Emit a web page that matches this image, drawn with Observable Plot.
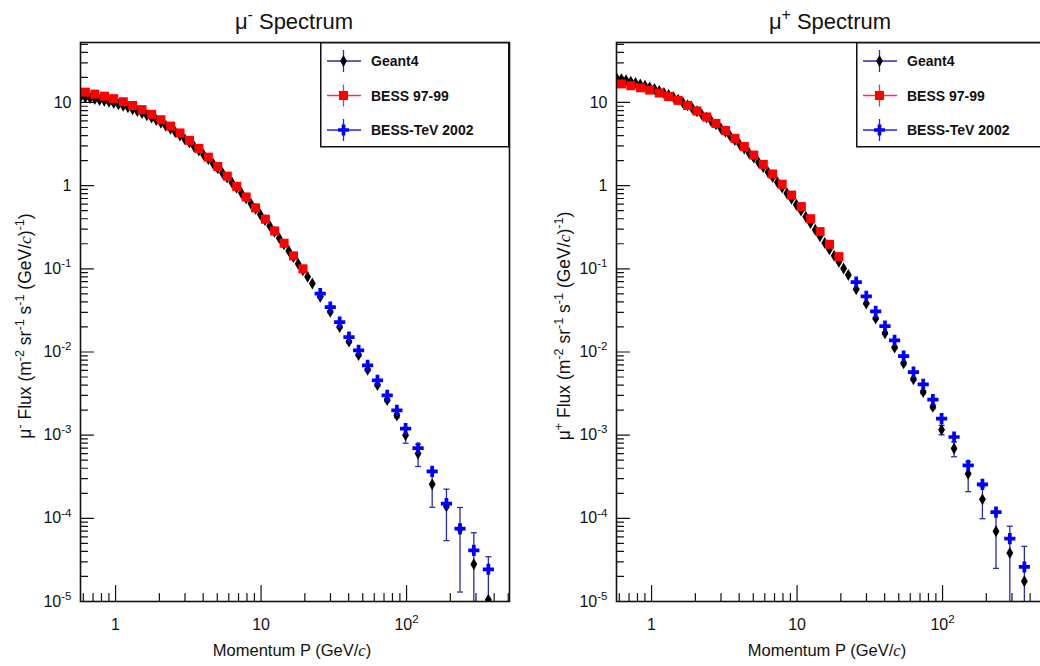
<!DOCTYPE html>
<html><head><meta charset="utf-8">
<script src="https://cdn.jsdelivr.net/npm/d3@7"></script>
<script src="https://cdn.jsdelivr.net/npm/@observablehq/plot@0.6"></script>
<style>
body{margin:0;background:#fff;}
#fig{position:relative;width:1040px;height:666px;overflow:hidden;background:#fff;font-family:"Liberation Sans",Arial,sans-serif;}
.panel{position:absolute;top:0;width:520px;height:666px;overflow:hidden;}
.panel > svg{max-width:none !important;height:666px !important;}
.legend{position:absolute;top:42px;width:190px;height:106px;}
</style></head>
<body><div id="fig"><div class="panel" id="left" style="left:0"></div><div class="panel" id="right" style="left:520px"></div></div>
<script>
// ---------- data ----------
// BESS 97-99 momentum bins (GeV/c)
const pBess = [0.62,0.72,0.84,0.97,1.13,1.31,1.52,1.77,2.05,2.39,2.77,3.22,3.74,4.34,5.04,5.86,6.80,7.90,9.17,10.7,12.4,14.4,16.7,19.4];
const bessMinus = [13.3,12.6,11.9,11.1,10.2,9.2,8.2,7.2,6.2,5.2,4.3,3.5,2.8,2.2,1.70,1.30,0.98,0.73,0.54,0.395,0.285,0.203,0.143,0.100];
const bessPlus  = [16.7,15.9,15.0,14.1,13.0,11.8,10.6,9.2,7.9,6.7,5.6,4.6,3.7,2.95,2.33,1.80,1.38,1.04,0.77,0.56,0.40,0.28,0.197,0.140];
// Geant4 fine bins at low momentum
const pG4 = [0.575,0.620,0.668,0.720,0.776,0.836,0.901,0.971,1.047,1.128,1.216,1.310,1.412,1.522,1.640,1.768,1.905,2.053,2.213,2.385,2.570,2.770,2.985,3.217,3.467,3.736,4.027,4.339,4.677,5.040,5.432,5.854,6.309,6.799,7.327,7.897,8.510,9.171,9.884,10.65,11.48,12.37,13.33,14.37,15.49,16.69,17.99,19.38,20.89,22.51];
const g4MinusLow = [11.7,11.5,11.3,11.0,10.7,10.5,10.2,9.84,9.48,9.14,8.73,8.30,7.87,7.46,7.01,6.59,6.15,5.71,5.25,4.83,4.41,4.01,3.63,3.29,2.95,2.64,2.35,2.09,1.84,1.62,1.42,1.25,1.09,0.944,0.817,0.706,0.608,0.525,0.450,0.386,0.328,0.279,0.234,0.197,0.165,0.138,0.115,0.0962,0.0802,0.0667];
const g4PlusLow  = [19.6,19.1,18.5,17.8,17.2,16.5,15.9,15.2,14.5,13.8,13.0,12.3,11.6,10.8,10.0,9.27,8.53,7.83,7.18,6.58,5.98,5.45,4.92,4.44,3.96,3.53,3.14,2.79,2.47,2.18,1.91,1.67,1.46,1.27,1.10,0.948,0.811,0.695,0.590,0.501,0.422,0.355,0.295,0.246,0.205,0.171,0.144,0.121,0.101,0.0843];
// BESS-TeV 2002 momentum bins (GeV/c)
const pTev = [25.5,29.9,34.7,40.2,46.8,54.0,63.1,73.6,85.8,98.5,120,150,188,233,290,365];
const tevMinus = [0.0502,0.0347,0.0229,0.0151,0.01045,0.0069,0.00456,0.00301,0.00199,0.0012,7.0e-4,3.67e-4,1.50e-4,7.5e-5,4.12e-5,2.44e-5];
const tevPlus  = [0.0692,0.0466,0.0308,0.0205,0.01377,0.00891,0.00573,0.00408,0.00267,0.00158,9.5e-4,4.34e-4,2.56e-4,1.19e-4,5.7e-5,2.6e-5];
// Geant4 at BESS-TeV bins, with errors
const g4MinusHigh = [0.046,0.0305,0.0200,0.0133,0.0092,0.0061,0.0040,0.00265,0.00172,1.0e-3,6.0e-4,2.56e-4,1.39e-4,7.4e-5,2.8e-5,1.05e-5];
const g4MinusErr  = [0.001,0.0008,0.0006,0.0004,0.0003,0.0002,0.00015,0.00012,0.0001,2.0e-4,1.8e-4,1.2e-4,0.85e-4,6.1e-5,3.9e-5,2.4e-5];
const g4PlusHigh  = [0.0567,0.0382,0.0253,0.0168,0.0113,0.0073,0.0047,0.0033,0.00219,1.16e-3,6.9e-4,3.44e-4,1.69e-4,7.0e-5,3.83e-5,1.75e-5];
const g4PlusErr   = [0.0012,0.0009,0.0007,0.0005,0.0004,0.0003,0.0002,0.00015,0.00012,1.5e-4,1.4e-4,1.35e-4,0.7e-4,4.5e-5,4.2e-5,2.85e-5];

const seriesNames = ["Geant4","BESS 97-99","BESS-TeV 2002"];
const xMajor = [1,10,100];
const xMinor = [0.6,0.7,0.8,0.9,2,3,4,5,6,7,8,9,20,30,40,50,60,70,80,90,200,300,400,500];
const yMajor = [1e-5,1e-4,1e-3,1e-2,1e-1,1,10];
const yMinor = [];
for (const d of [1e-5,1e-4,1e-3,1e-2,1e-1,1,10]) for (let k=2;k<=9;k++){ const v=d*k; if (v<=52) yMinor.push(v); }

// ---------- styling ----------
const NAVY = "#2b2bb0", RED = "#ff0000", BLUE = "#0000ff";
const FONT = "Liberation Sans, Arial, Helvetica, sans-serif";
const tickShape = {draw(ctx, l){ ctx.moveTo(0,0); ctx.lineTo(0,-l); }};
const capSymbol = {draw(ctx, size){ const w = Math.sqrt(size/Math.PI); ctx.moveTo(-w,0); ctx.lineTo(w,0); }};

const fmtX = d => d === 100 ? "10^2" : String(d);
const fmtY = d => d === 10 ? "10" : d === 1 ? "1" : "10^" + Math.round(Math.log10(d));

function supify(svg){
  d3.select(svg).selectAll("g[aria-label$='tick label'] text").each(function(){
    const t = this.textContent; const m = t.match(/^(.*)\^(.*)$/);
    if (!m) return;
    const s = d3.select(this); s.text(null);
    s.append("tspan").text(m[1]);
    s.append("tspan").attr("dy","-0.6em").attr("font-size","0.72em").text(m[2]);
  });
}

function rich(parent, parts, fs){
  const t = parent.append("text").attr("font-size", fs).attr("fill","#111");
  const up = 0.42*fs; let raised = false;
  for (const [s, kind] of parts){
    const ts = t.append("tspan").text(s);
    if (kind === "sup"){ ts.attr("font-size", 0.72*fs); if(!raised){ ts.attr("dy", -up); raised = true; } }
    else { if (raised){ ts.attr("dy", up); raised = false; } if (kind === "it") ts.attr("font-family","Liberation Serif, Times New Roman, serif").attr("font-style","italic"); }
  }
  return t;
}

function panel(el, o){
  const geant = [...pG4.map((p,i)=>({p, f:o.g4Low[i]})), ...pTev.map((p,i)=>({p, f:o.g4High[i]}))];
  const err = pTev.map((p,i)=>({p, f:o.g4High[i], lo:o.g4High[i]-o.g4Err[i], hi:o.g4High[i]+o.g4Err[i]}));
  const caps = [...err.map(d=>({p:d.p, v:d.hi})), ...err.filter(d=>d.lo>0).map(d=>({p:d.p, v:d.lo}))];
  const bess = pBess.map((p,i)=>({p, f:o.bess[i]}));
  const tev = pTev.map((p,i)=>({p, f:o.tev[i]}));
  const svg = Plot.plot({
    width: o.width, height: 666,
    marginLeft: o.ml, marginRight: o.mr, marginTop: 42, marginBottom: 65,
    x: {type: "log", domain: [0.574, 510]},
    y: {type: "log", domain: [1e-5, 52.6]},
    style: {fontFamily: FONT, color: "#111", background: "transparent", overflow: "visible"},
    marks: [
      Plot.vector(xMajor, {x: d=>d, frameAnchor: "bottom", length: 16, rotate: 0, anchor: "start", shape: tickShape, stroke: "#111", strokeWidth: 1.2}),
      Plot.vector(xMinor, {x: d=>d, frameAnchor: "bottom", length: 8, rotate: 0, anchor: "start", shape: tickShape, stroke: "#111", strokeWidth: 1.2}),
      Plot.vector(yMajor, {y: d=>d, frameAnchor: "left", length: 13, rotate: 90, anchor: "start", shape: tickShape, stroke: "#111", strokeWidth: 1.2}),
      Plot.vector(yMinor, {y: d=>d, frameAnchor: "left", length: 7, rotate: 90, anchor: "start", shape: tickShape, stroke: "#111", strokeWidth: 1.2}),
      Plot.axisX({ticks: xMajor, tickSize: 0, tickPadding: 17, tickFormat: fmtX, label: null, fontSize: 16}),
      Plot.axisY({ticks: yMajor, tickSize: 0, tickPadding: 9, tickFormat: fmtY, label: null, fontSize: 16}),
      Plot.ruleX(err, {x: "p", y1: d=>d.lo>0?d.lo:1e-8, y2: "hi", stroke: NAVY, strokeWidth: 1.3, clip: true}),
      Plot.dot(caps, {x: "p", y: "v", symbol: capSymbol, r: 3, stroke: NAVY, strokeWidth: 1.3, fill: "none", clip: true}),
      Plot.dot(geant, {x: "p", y: "f", symbol: "diamond", r: 3.6, fill: "#000", clip: true}),
      Plot.dot(bess, {x: "p", y: "f", symbol: "square", r: 5.1, fill: RED, clip: true}),
      Plot.dot(tev, {x: "p", y: "f", symbol: "cross", r: 4.7, fill: BLUE, clip: true}),
      Plot.frame({stroke: "#111", strokeWidth: 1.6})
    ]
  });
  svg.style.maxWidth = "none";
  svg.style.height = "666px";
  supify(svg);
  const s = d3.select(svg);
  // title
  rich(s, [["μ"],[o.sign,"sup"],[" Spectrum"]], 22).attr("x", o.titleX).attr("y", 29).attr("text-anchor","middle");
  // x label
  rich(s, [["Momentum P (GeV/"],["c","it"],[")"]], 16.5).attr("x", o.xlabX).attr("y", 656).attr("text-anchor","middle");
  // y label
  rich(s, [["μ"],[o.sign,"sup"],[" Flux (m"],["-2","sup"],[" sr"],["-1","sup"],[" s"],["-1","sup"],[" (GeV/"],["c","it"],[")"],["-1","sup"],[")"]], 17.5)
    .attr("transform", `translate(${o.ylabX},326) rotate(-90)`).attr("text-anchor","middle");
  el.appendChild(svg);

  // legend
  const lg = d3.select(el).append("div").attr("class","legend").style("left", o.legLeft+"px");
  const ls = lg.append("svg").attr("width",190).attr("height",106).style("font-family",FONT);
  ls.append("rect").attr("x",0.75).attr("y",0.75).attr("width",188).attr("height",104).attr("fill","#fff").attr("stroke","#111").attr("stroke-width",1.5);
  const items = [
    {name: seriesNames[0], line: NAVY, fill: "#000", sym: d3.symbolDiamond, size: 40},
    {name: seriesNames[1], line: "#ff3030", fill: RED, sym: d3.symbolSquare, size: 82},
    {name: seriesNames[2], line: "#2020ff", fill: BLUE, sym: d3.symbolCross, size: 67}
  ];
  items.forEach((it, i) => {
    const g = ls.append("g").attr("transform", `translate(0,${19 + i*34.5})`);
    g.append("line").attr("x1",7).attr("x2",41).attr("y1",0).attr("y2",0).attr("stroke",it.line).attr("stroke-width",1.3);
    g.append("line").attr("x1",23.5).attr("x2",23.5).attr("y1",-11).attr("y2",11).attr("stroke",it.line).attr("stroke-width",1.3);
    g.append("path").attr("transform","translate(23.5,0)").attr("d", d3.symbol(it.sym, it.size)()).attr("fill", it.fill);
    g.append("text").attr("x",51).attr("y",5).attr("font-size",14).attr("font-weight","bold").attr("fill","#111").text(it.name);
  });
}

panel(document.getElementById("left"), {
  width: 520, ml: 80, mr: 11, sign: "-", bess: bessMinus, g4Low: g4MinusLow, tev: tevMinus, g4High: g4MinusHigh, g4Err: g4MinusErr,
  titleX: 294, xlabX: 292, ylabX: 31, legLeft: 320
});
panel(document.getElementById("right"), {
  width: 535, ml: 96, mr: 10, sign: "+", bess: bessPlus, g4Low: g4PlusLow, tev: tevPlus, g4High: g4PlusHigh, g4Err: g4PlusErr,
  titleX: 310, xlabX: 307, ylabX: 50, legLeft: 336
});
</script>
</body></html>
